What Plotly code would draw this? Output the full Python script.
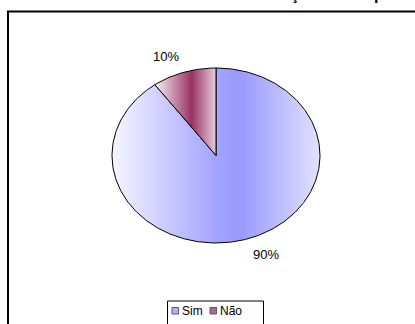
import numpy as np
import plotly.graph_objects as go

# Survey answers
categories = ["Sim", "Não"]
values = [90, 10]
base_colors = ["#9999FF", "#993366"]
gradients = [
    [[0.0, "#F6F6FF"], [0.5, "#A3A3FF"], [0.62, "#9999FF"], [1.0, "#E2E2FF"]],
    [[0.0, "#FAF2F6"], [0.6, "#993366"], [1.0, "#E6CCDA"]],
]
title_text = "Satisfação com o produto"

W, H = 415, 324
# pie ellipse geometry in pixels (from top-left)
cx, cy = 216.0, 155.5
rx, ry = 104.0, 87.5
pad = 1.1

FONT = "Liberation Sans, Arial, sans-serif"

fig = go.Figure()

total = float(sum(values))
start = 0.0
label_annotations = []
for name, v, grad in zip(categories, values, gradients):
    frac = v / total
    a0, a1 = start * 2 * np.pi, (start + frac) * 2 * np.pi
    t = np.linspace(a0, a1, max(int(frac * 360), 12))
    xs = np.concatenate([[0.0], np.sin(t), [0.0]])
    ys = np.concatenate([[0.0], np.cos(t), [0.0]])
    fig.add_trace(go.Scatter(
        x=xs, y=ys, mode="lines", fill="toself", name=name,
        line=dict(color="black", width=1),
        fillgradient=dict(type="horizontal", colorscale=grad,
                          start=float(xs.min()), stop=float(xs.max())),
        hoverinfo="skip", showlegend=False,
    ))
    mid = (start + frac / 2) * 2 * np.pi
    lx, ly = 1.08 * np.sin(mid), 1.08 * np.cos(mid)
    label_annotations.append(dict(
        x=lx, y=ly, xref="x", yref="y", showarrow=False,
        text=f"{round(frac * 100)}%",
        xanchor="right" if lx < 0 else "left",
        yanchor="bottom" if ly > 0 else "top",
        font=dict(family=FONT, size=13, color="black"),
    ))
    start += frac

# axis domains so that the unit circle becomes the ellipse
x_dom = [(cx - pad * rx) / W, (cx + pad * rx) / W]
y_dom = [(H - cy - pad * ry) / H, (H - cy + pad * ry) / H]

shapes = [
    # chart area border
    dict(type="rect", xref="paper", yref="paper",
         x0=8 / W, x1=1.05, y0=-0.05, y1=1 - 11.5 / H,
         line=dict(color="black", width=2), fillcolor="rgba(0,0,0,0)"),
    # legend box
    dict(type="rect", xref="paper", yref="paper",
         x0=167.5 / W, x1=263.5 / W, y0=-0.05, y1=1 - 301 / H,
         line=dict(color="black", width=1), fillcolor="white"),
]

legend_annotations = []
item_x = [172.0, 210.0]
for name, col, x0 in zip(categories, base_colors, item_x):
    shapes.append(dict(type="rect", xref="paper", yref="paper",
                       x0=x0 / W, x1=(x0 + 6.5) / W,
                       y0=1 - 314 / H, y1=1 - 307.5 / H,
                       line=dict(color="#222244", width=1), fillcolor=col,
                       opacity=0.75))
    legend_annotations.append(dict(
        x=(x0 + 8) / W, y=1 - 310.5 / H, xref="paper", yref="paper",
        text=name, showarrow=False, xanchor="left", yanchor="middle",
        font=dict(family=FONT, size=12, color="black"),
    ))

# title sits mostly above the top edge of the page
title_annotation = dict(
    x=236 / W, y=1, xref="paper", yref="paper", text=f"<b>{title_text}</b>",
    showarrow=False, xanchor="left", yanchor="bottom", yshift=-5.5,
    font=dict(family=FONT, size=16, color="black"),
)

fig.update_layout(
    width=W, height=H,
    margin=dict(l=0, r=0, t=0, b=0),
    paper_bgcolor="white", plot_bgcolor="rgba(0,0,0,0)",
    xaxis=dict(domain=x_dom, range=[-pad, pad], visible=False),
    yaxis=dict(domain=y_dom, range=[-pad, pad], visible=False),
    shapes=shapes,
    annotations=label_annotations + legend_annotations + [title_annotation],
    showlegend=False,
)

fig.write_html("out.html")
